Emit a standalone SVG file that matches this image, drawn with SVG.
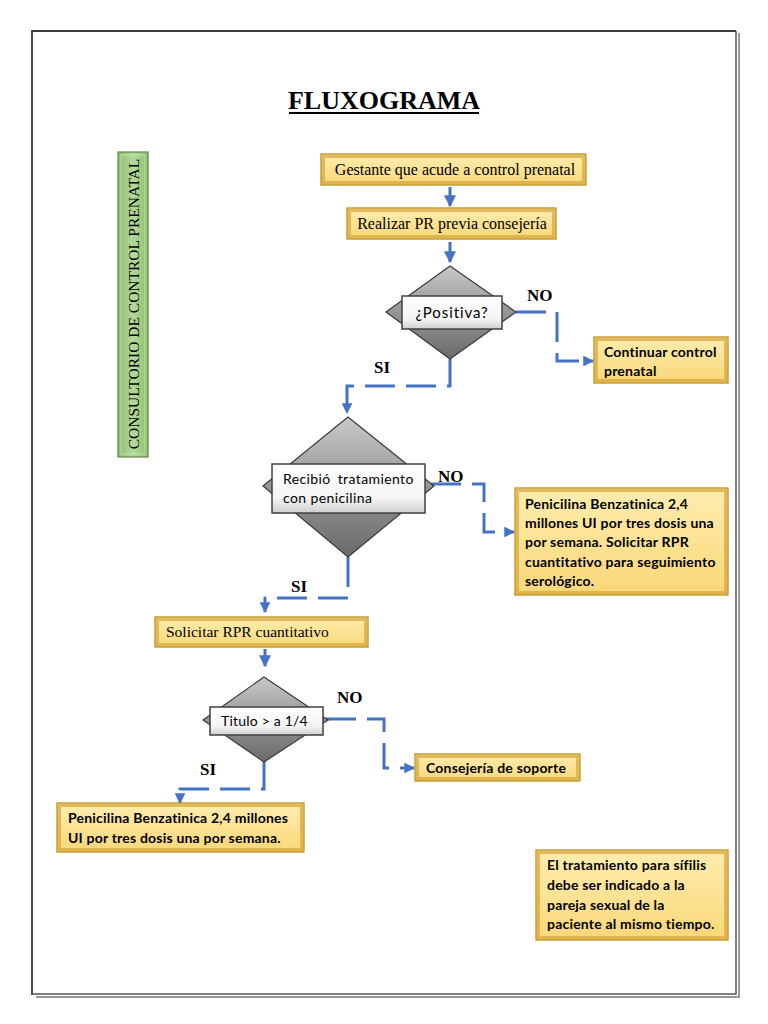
<svg xmlns="http://www.w3.org/2000/svg" width="768" height="1024" viewBox="0 0 768 1024">
<defs>
<linearGradient id="yel" x1="0" y1="0" x2="0" y2="1">
<stop offset="0" stop-color="#FFEDB0"/><stop offset="1" stop-color="#F9D777"/>
</linearGradient>
<linearGradient id="grn" x1="0" y1="0" x2="1" y2="0">
<stop offset="0" stop-color="#8DBF6A"/><stop offset="0.5" stop-color="#B5D89C"/><stop offset="1" stop-color="#8DBF6A"/>
</linearGradient>
<linearGradient id="dia" x1="0" y1="0" x2="0" y2="1">
<stop offset="0" stop-color="#C9C9C9"/><stop offset="0.45" stop-color="#9A9A9A"/><stop offset="1" stop-color="#6A6A6A"/>
</linearGradient>
<linearGradient id="lbl" x1="0" y1="0" x2="0" y2="1">
<stop offset="0" stop-color="#FFFFFF"/><stop offset="0.7" stop-color="#F4F4F4"/><stop offset="1" stop-color="#CFCFCF"/>
</linearGradient>
<marker id="ah" viewBox="0 0 10 10" refX="9" refY="5" markerWidth="4" markerHeight="4" orient="auto" markerUnits="strokeWidth">
<path d="M0,0 L10,5 L0,10 z" fill="#4472C4"/>
</marker>
<marker id="ah2" viewBox="0 0 10 10" refX="9" refY="5" markerWidth="3.6" markerHeight="3.6" orient="auto" markerUnits="strokeWidth">
<path d="M0,0 L10,5 L0,10 z" fill="#4472C4"/>
</marker>
</defs>
<style>
.yb{fill:url(#yel);stroke:#B8860B;stroke-width:1.2}
.ybe{fill:none;stroke:#D4A53A;stroke-width:3;opacity:0.7}
.serif{font-family:"Liberation Serif","Times New Roman",serif;fill:#000}
.sans{font-family:Lato,"Liberation Sans",sans-serif;fill:#000}
.b{font-weight:bold}
.yt{font-family:Lato,"Liberation Sans",sans-serif;font-weight:bold;font-size:14px;letter-spacing:0.2px;fill:#000}
.dia{fill:url(#dia);stroke:#3A3A3A;stroke-width:1.2}
.lb{fill:url(#lbl);stroke:#404040;stroke-width:1.5}
.con{fill:none;stroke:#4472C4;stroke-width:3}
.dash{stroke-dasharray:30 11}
.lab{font-family:"Liberation Serif","Times New Roman",serif;font-weight:bold;font-size:17px;fill:#000}
</style>
<rect x="0" y="0" width="768" height="1024" fill="#FFFFFF"/>
<g id="border">
<path d="M32,995 V31 H736" fill="none" stroke="#3A3A3A" stroke-width="1.8"/>
<path d="M736,31 V994 H33" fill="none" stroke="#555" stroke-width="1.5"/>
<path d="M739,33 V997 H36" fill="none" stroke="#777" stroke-width="1.5"/>
</g>
<g id="title">
<text x="384" y="109" text-anchor="middle" class="serif b" font-size="26">FLUXOGRAMA</text>
<line x1="289" y1="113" x2="479" y2="113" stroke="#000" stroke-width="1.8"/>
</g>
<g id="side">
<rect x="118" y="152" width="30" height="305" fill="url(#grn)" stroke="#5E8A45" stroke-width="1.2"/>
<rect x="121" y="155" width="24" height="299" fill="none" stroke="#C9E3B6" stroke-width="1" opacity="0.8"/>
<text transform="translate(139,304) rotate(-90)" text-anchor="middle" class="serif" font-size="15.5">CONSULTORIO DE CONTROL PRENATAL</text>
</g>
<g id="connectors">
<line x1="450" y1="187" x2="450" y2="206" class="con" marker-end="url(#ah)"/>
<line x1="450" y1="242" x2="450" y2="262" class="con" marker-end="url(#ah)"/>
<path d="M516,312 H557 V361 H593" class="con dash" marker-end="url(#ah2)"/>
<path d="M450,359 V386 H347 V413" class="con dash" marker-end="url(#ah2)"/>
<path d="M431,484 H484 V532 H514" class="con dash" marker-end="url(#ah2)"/>
<path d="M348,557 V598 H265 V612" class="con dash" marker-end="url(#ah2)"/>
<line x1="265" y1="649" x2="265" y2="666" class="con" marker-end="url(#ah)"/>
<path d="M326,719 H384 V768 H414" class="con dash" marker-end="url(#ah2)"/>
<path d="M264,762 V789 H180 V803" class="con dash" marker-end="url(#ah2)"/>
</g>
<g id="labels">
<text x="527" y="301" class="lab">NO</text>
<text x="374" y="373" class="lab">SI</text>
<text x="438" y="482" class="lab">NO</text>
<text x="291" y="592" class="lab">SI</text>
<text x="337" y="703" class="lab">NO</text>
<text x="200" y="775" class="lab">SI</text>
</g>
<g id="n1">
<rect x="321" y="154" width="265" height="31" class="yb"/>
<rect x="323.5" y="156.5" width="260" height="26" class="ybe"/>
<text x="455" y="175" text-anchor="middle" class="serif" font-size="16">Gestante que acude a control prenatal</text>
</g>
<g id="n2">
<rect x="347" y="208" width="209" height="31" class="yb"/>
<rect x="349.5" y="210.5" width="204" height="26" class="ybe"/>
<text x="452" y="229" text-anchor="middle" class="serif" font-size="16">Realizar  PR previa consejería</text>
</g>
<g id="d1">
<polygon points="450,266 516,312 450,359 386,312" class="dia"/>
<rect x="402" y="296" width="100" height="33" class="lb"/>
<text x="452" y="318" text-anchor="middle" class="sans" font-size="15" letter-spacing="0.9">¿Positiva?</text>
</g>
<g id="n3">
<rect x="594" y="337" width="134" height="46" class="yb"/>
<rect x="596.5" y="339.5" width="129" height="41" class="ybe"/>
<text x="604" y="357" class="yt">Continuar control</text>
<text x="604" y="376" class="yt">prenatal</text>
</g>
<g id="d2">
<polygon points="348,417 434,486 348,557 263,486" class="dia"/>
<rect x="272" y="464" width="153" height="49" class="lb"/>
<text x="283" y="484" class="sans" font-size="14" letter-spacing="0.4" word-spacing="3">Recibió tratamiento</text>
<text x="283" y="503" class="sans" font-size="14" letter-spacing="0.4">con penicilina</text>
</g>
<g id="n4">
<rect x="515" y="488" width="213" height="107" class="yb"/>
<rect x="517.5" y="490.5" width="208" height="102" class="ybe"/>
<text x="525" y="509" class="yt">Penicilina Benzatinica 2,4</text>
<text x="525" y="528" class="yt">millones UI por tres dosis una</text>
<text x="525" y="547" class="yt">por semana. Solicitar RPR</text>
<text x="525" y="567" class="yt">cuantitativo para seguimiento</text>
<text x="525" y="586" class="yt">serológico.</text>
</g>
<g id="n5">
<rect x="155" y="617" width="213" height="30" class="yb"/>
<rect x="157.5" y="619.5" width="208" height="25" class="ybe"/>
<text x="166" y="637" class="serif" font-size="15.5">Solicitar RPR cuantitativo</text>
</g>
<g id="d3">
<polygon points="264,677 328,720 264,762 203,720" class="dia"/>
<rect x="210" y="707" width="113" height="28" class="lb"/>
<text x="221" y="726" class="sans" font-size="14" letter-spacing="0.2">Titulo &gt; a 1/4</text>
</g>
<g id="n6">
<rect x="415" y="754" width="165" height="27" class="yb"/>
<rect x="417.5" y="756.5" width="160" height="22" class="ybe"/>
<text x="426" y="773" class="yt">Consejería de soporte</text>
</g>
<g id="n7">
<rect x="57" y="803" width="247" height="49" class="yb"/>
<rect x="59.5" y="805.5" width="242" height="44" class="ybe"/>
<text x="68" y="823" class="yt">Penicilina Benzatinica 2,4 millones</text>
<text x="68" y="843" class="yt">UI por tres dosis una por semana.</text>
</g>
<g id="n8">
<rect x="536" y="850" width="192" height="90" class="yb"/>
<rect x="538.5" y="852.5" width="187" height="85" class="ybe"/>
<text x="547" y="870" class="yt">El tratamiento para sífilis</text>
<text x="547" y="890" class="yt">debe ser indicado a la</text>
<text x="547" y="910" class="yt">pareja sexual de la</text>
<text x="547" y="929" class="yt">paciente al mismo tiempo.</text>
</g>
</svg>
